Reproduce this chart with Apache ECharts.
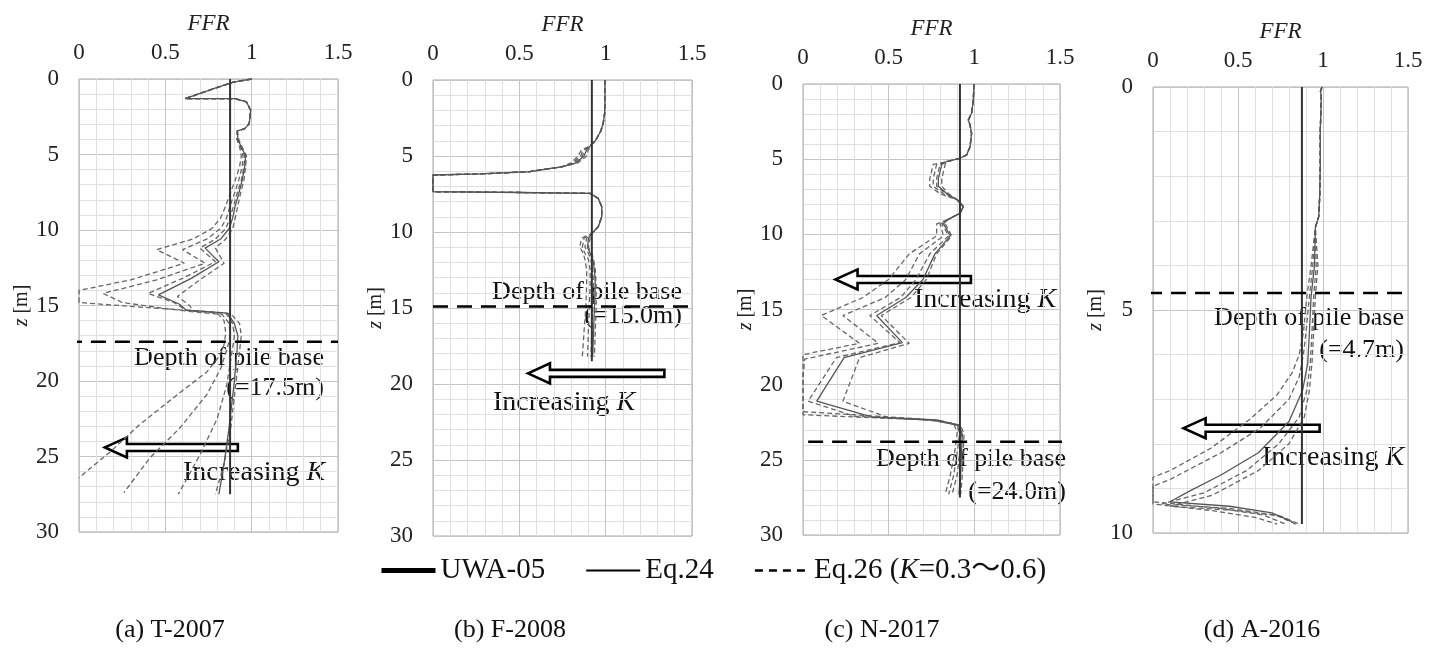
<!DOCTYPE html>
<html>
<head>
<meta charset="utf-8">
<script src="https://cdn.jsdelivr.net/npm/echarts@6/dist/echarts.min.js"></script>
<style>
  html, body { margin: 0; padding: 0; background: #fff; }
  #chart { width: 1441px; height: 657px; }
</style>
</head>
<body>
<div id="chart"></div>
<script>
// values are [FFR, z] pairs
const panelNames = ['(a) T-2007', '(b) F-2008', '(c) N-2017', '(d) A-2016'];
const depthMax = [30, 30, 30, 10];
const pileBase = ['17.5', '15.0', '24.0', '4.7'];
const ffrTicks = [0, 0.5, 1, 1.5];

// (a) T-2007
const aTop = [[1.0, 0], [0.894, 0.2], [0.78, 0.64], [0.643, 1.19], [0.614, 1.3], [0.903, 1.3], [0.97, 1.52],
  [0.994, 2.07], [0.986, 2.96], [0.96, 3.29], [0.917, 3.44]];
const aK06 = [[0.915, 4.0], [0.93, 4.5], [0.94, 5.1], [0.93, 5.8], [0.905, 6.7], [0.875, 7.6], [0.85, 8.4],
  [0.82, 9.2], [0.77, 9.9], [0.66, 10.6], [0.45, 11.3], [0.61, 12.2], [0.3, 13.3], [0.0, 14.0], [0.0, 14.8],
  [0.35, 15.1], [0.6, 15.3], [0.8, 15.5], [0.84, 16.0], [0.85, 16.8], [0.84, 17.6], [0.81, 18.4], [0.74, 19.4],
  [0.57, 20.9], [0.35, 22.9], [0.18, 24.7], [0.0, 26.4]];
const aK05 = [[0.915, 4.0], [0.935, 4.5], [0.95, 5.1], [0.945, 5.8], [0.925, 6.7], [0.9, 7.6], [0.875, 8.4],
  [0.855, 9.2], [0.82, 9.9], [0.74, 10.6], [0.6, 11.3], [0.73, 12.2], [0.45, 13.3], [0.14, 14.2], [0.25, 14.8],
  [0.5, 15.2], [0.65, 15.4], [0.83, 15.6], [0.87, 16.2], [0.875, 17.0], [0.86, 17.8], [0.82, 19.2], [0.74, 20.9],
  [0.585, 23.1], [0.41, 25.1], [0.26, 27.4]];
const aK04 = [[0.92, 4.0], [0.94, 4.5], [0.96, 5.1], [0.955, 5.8], [0.94, 6.7], [0.915, 7.6], [0.895, 8.4],
  [0.875, 9.2], [0.85, 9.9], [0.79, 10.6], [0.7, 11.2], [0.79, 12.1], [0.6, 13.2], [0.4, 14.2], [0.55, 14.8],
  [0.62, 15.3], [0.85, 15.5], [0.89, 16.2], [0.9, 17.0], [0.89, 17.8], [0.855, 20.3], [0.8, 22.5], [0.7, 24.9],
  [0.575, 27.5]];
const aEq24 = [[0.92, 4.0], [0.94, 4.5], [0.965, 5.1], [0.96, 5.8], [0.945, 6.7], [0.925, 7.6], [0.905, 8.4],
  [0.89, 9.2], [0.87, 9.9], [0.82, 10.6], [0.73, 11.2], [0.81, 12.1], [0.65, 13.2], [0.46, 14.3], [0.58, 14.9],
  [0.62, 15.3], [0.86, 15.5], [0.9, 16.2], [0.92, 17.0], [0.915, 18.0], [0.9, 20.0], [0.87, 23.0], [0.84, 25.5],
  [0.81, 27.5]];
const aK03 = [[0.925, 4.0], [0.945, 4.5], [0.97, 5.1], [0.965, 5.8], [0.955, 6.7], [0.935, 7.6], [0.92, 8.4],
  [0.905, 9.2], [0.89, 9.9], [0.85, 10.6], [0.79, 11.2], [0.84, 12.2], [0.7, 13.3], [0.57, 14.4], [0.64, 15.0],
  [0.66, 15.35], [0.88, 15.55], [0.93, 16.2], [0.94, 17.0], [0.93, 18.0], [0.91, 20.0], [0.88, 23.0],
  [0.84, 25.5], [0.79, 27.5]];
const aUwa = [[0.875, 0], [0.875, 27.5]];

// (b) F-2008
const bTop = [[0.996, 0], [0.996, 1.0], [0.994, 2.2], [0.985, 2.9], [0.97, 3.4], [0.94, 4.0], [0.91, 4.35]];
const bMid = [[0.75, 5.7], [0.56, 6.03], [0.27, 6.18], [0.0, 6.25], [0.0, 7.35], [0.5, 7.4], [0.909, 7.46],
  [0.957, 7.79], [0.977, 8.33], [0.977, 9.0], [0.957, 9.65], [0.92, 10.1]];
const bK06 = [[[0.86, 4.6], [0.84, 5.0], [0.8, 5.45]], [[0.86, 10.4], [0.85, 11.0], [0.87, 11.4], [0.88, 11.8],
  [0.89, 12.5], [0.89, 13.5], [0.885, 15.0], [0.875, 16.5], [0.865, 18.2]]];
const bK05 = [[[0.87, 4.6], [0.855, 5.0], [0.81, 5.45]], [[0.875, 10.4], [0.865, 11.0], [0.88, 11.4], [0.9, 11.8],
  [0.91, 12.5], [0.91, 13.5], [0.905, 15.0], [0.9, 16.5], [0.895, 18.2]]];
const bK04 = [[[0.88, 4.6], [0.865, 5.0], [0.82, 5.45]], [[0.89, 10.4], [0.88, 11.0], [0.9, 11.4], [0.915, 11.8],
  [0.925, 12.5], [0.93, 13.5], [0.925, 15.0], [0.92, 16.5], [0.915, 18.2]]];
const bEq24 = [[[0.89, 4.6], [0.875, 5.0], [0.83, 5.45]], [[0.9, 10.4], [0.895, 11.0], [0.91, 11.4], [0.925, 11.8],
  [0.935, 12.5], [0.94, 13.5], [0.935, 15.0], [0.93, 16.5], [0.925, 18.2]]];
const bK03 = [[[0.9, 4.6], [0.89, 5.0], [0.84, 5.45]], [[0.91, 10.4], [0.9, 11.0], [0.92, 11.4], [0.93, 11.8],
  [0.94, 12.5], [0.945, 13.5], [0.945, 15.0], [0.94, 16.5], [0.935, 18.2]]];
const bUwa = [[0.92, 0], [0.92, 18.5]];

// (c) N-2017
const cTop = [[0.998, 0], [0.994, 1.06], [0.984, 1.95], [0.965, 2.4], [0.975, 2.73], [0.984, 3.28],
  [0.975, 4.17], [0.955, 4.72], [0.916, 4.94], [0.838, 5.17]];
const cMid = [[0.9, 7.7], [0.936, 8.16], [0.916, 8.6], [0.84, 9.05]];
const cK06 = [[[0.76, 5.35], [0.74, 6.3], [0.74, 6.8], [0.8, 7.3]], [[0.78, 9.3], [0.78, 10.1], [0.62, 11.3],
  [0.5, 13.0], [0.35, 14.2], [0.107, 15.4], [0.33, 17.25], [0.0, 18.0], [0.0, 21.8], [0.3, 22.0], [0.7, 22.3],
  [0.88, 22.6], [0.9, 23.2], [0.885, 24.5], [0.86, 26.0], [0.83, 27.3]]];
const cK05 = [[[0.78, 5.35], [0.76, 6.3], [0.76, 6.8], [0.82, 7.3]], [[0.8, 9.3], [0.82, 10.1], [0.68, 11.3],
  [0.6, 13.0], [0.48, 14.2], [0.233, 15.4], [0.44, 17.25], [0.01, 18.3], [0.0, 19.5], [0.0, 22.0], [0.3, 22.15],
  [0.75, 22.35], [0.89, 22.65], [0.915, 23.2], [0.9, 24.5], [0.88, 26.0], [0.85, 27.3]]];
const cK04 = [[[0.8, 5.35], [0.78, 6.3], [0.78, 6.8], [0.835, 7.3]], [[0.81, 9.3], [0.85, 10.1], [0.74, 11.3],
  [0.66, 13.0], [0.57, 14.2], [0.39, 15.4], [0.565, 17.2], [0.195, 18.2], [0.03, 21.1], [0.3, 22.1],
  [0.76, 22.35], [0.9, 22.7], [0.925, 23.3], [0.915, 24.5], [0.9, 26.0], [0.87, 27.3]]];
const cEq24 = [[[0.81, 5.35], [0.79, 6.3], [0.79, 6.8], [0.84, 7.3]], [[0.82, 9.3], [0.86, 10.1], [0.77, 11.3],
  [0.7, 13.0], [0.6, 14.2], [0.43, 15.4], [0.58, 17.2], [0.24, 18.2], [0.08, 21.1], [0.4, 22.15], [0.78, 22.35],
  [0.91, 22.7], [0.93, 23.3], [0.925, 24.5], [0.92, 26.0], [0.91, 27.3]]];
const cK03 = [[[0.83, 5.35], [0.81, 6.3], [0.81, 6.8], [0.85, 7.3]], [[0.83, 9.3], [0.868, 10.1], [0.78, 11.3],
  [0.72, 13.0], [0.63, 14.2], [0.457, 15.4], [0.62, 17.25], [0.33, 18.2], [0.233, 21.1], [0.5, 22.2], [0.8, 22.4],
  [0.92, 22.7], [0.94, 23.3], [0.935, 24.5], [0.93, 26.0], [0.92, 27.3]]];
const cUwa = [[0.916, 0], [0.916, 27.5]];

// (d) A-2016
const dTop = [[0.994, 0], [0.985, 0.1], [0.99, 0.2], [0.984, 1.0], [0.984, 1.8], [0.98, 2.5], [0.975, 2.9],
  [0.955, 3.15]];
const dK06 = [[0.93, 4.0], [0.905, 4.7], [0.885, 5.5], [0.86, 6.0], [0.82, 6.4], [0.73, 6.9], [0.57, 7.45],
  [0.34, 8.1], [0.1, 8.6], [0.0, 8.75], [0.0, 9.35], [0.35, 9.5], [0.6, 9.65], [0.73, 9.8]];
const dK05 = [[0.94, 4.0], [0.92, 4.7], [0.9, 5.5], [0.885, 6.0], [0.86, 6.5], [0.8, 7.0], [0.63, 7.65],
  [0.4, 8.2], [0.1, 8.8], [0.0, 8.95], [0.0, 9.3], [0.4, 9.45], [0.65, 9.6], [0.78, 9.8]];
const dEq24 = [[0.95, 4.0], [0.93, 4.7], [0.92, 5.5], [0.91, 6.2], [0.88, 6.8], [0.8, 7.5], [0.62, 8.2],
  [0.4, 8.7], [0.22, 9.05], [0.1, 9.3], [0.45, 9.4], [0.7, 9.55], [0.82, 9.75]];
const dK04 = [[0.96, 4.0], [0.945, 4.7], [0.935, 5.5], [0.925, 6.2], [0.905, 6.8], [0.86, 7.4], [0.74, 8.0],
  [0.55, 8.6], [0.3, 9.1], [0.05, 9.35], [0.45, 9.45], [0.72, 9.6], [0.84, 9.8]];
const dK03 = [[0.97, 4.0], [0.955, 4.7], [0.945, 5.5], [0.935, 6.2], [0.92, 6.8], [0.89, 7.4], [0.8, 8.0],
  [0.62, 8.6], [0.35, 9.15], [0.1, 9.4], [0.5, 9.5], [0.75, 9.62], [0.86, 9.8]];
const dUwa = [[0.876, 0], [0.876, 9.8]];

// pile base line: [x from, x to, z]
const baseLines = [[-0.07, 1.5, 17.4], [0, 1.558, 14.9], [0.03, 1.617, 23.8], [-0.035, 1.553, 4.62]];
// arrow: [tail x, tip x, z]
const arrows = [[0.92, 0.15, 24.4], [1.34, 0.55, 19.3], [0.98, 0.19, 13.0], [0.98, 0.18, 7.65]];

const eq26Name = 'Eq.26 (K=0.3～0.6)';
const serif = 'Liberation Serif, "Noto Sans CJK JP", serif';

const grids = [
  { left: 79, top: 79, width: 259, height: 453 },
  { left: 433, top: 80, width: 259, height: 456 },
  { left: 803, top: 84, width: 257, height: 451 },
  { left: 1153, top: 87, width: 255, height: 446 }
];

const curves = [
  { k: [aK06, aK05, aK04, aK03].map(c => aTop.concat(c)), eq: aTop.concat(aEq24), uwa: aUwa },
  {
    k: [bK06, bK05, bK04, bK03].map(c => bTop.concat(c[0], bMid, c[1])),
    eq: bTop.concat(bEq24[0], bMid, bEq24[1]),
    uwa: bUwa
  },
  {
    k: [cK06, cK05, cK04, cK03].map(c => cTop.concat(c[0], cMid, c[1])),
    eq: cTop.concat(cEq24[0], cMid, cEq24[1]),
    uwa: cUwa
  },
  { k: [dK06, dK05, dK04, dK03].map(c => dTop.concat(c)), eq: dTop.concat(dEq24), uwa: dUwa }
];

const xAxes = grids.map((g, i) => ({
  gridIndex: i,
  type: 'value',
  position: 'top',
  min: 0,
  max: 1.5,
  interval: 0.5,
  name: 'FFR',
  nameLocation: 'middle',
  nameGap: 44,
  nameTextStyle: { fontFamily: serif, fontStyle: 'italic', fontSize: 23, color: '#222' },
  axisLine: { show: false },
  axisTick: { show: false },
  axisLabel: {
    margin: 15,
    fontFamily: serif,
    fontSize: 23,
    color: '#222',
    formatter: v => (ffrTicks.indexOf(v) > -1 ? String(v) : '')
  },
  splitLine: { lineStyle: { color: '#c4c4c4', width: 1 } },
  minorTick: { show: false, splitNumber: 5 },
  minorSplitLine: { show: true, lineStyle: { color: '#e0e0e0', width: 1 } }
}));

const yAxes = grids.map((g, i) => ({
  gridIndex: i,
  type: 'value',
  inverse: true,
  min: 0,
  max: depthMax[i],
  interval: 5,
  name: '{i|z} [m]',
  nameLocation: 'middle',
  nameGap: 46,
  nameTextStyle: {
    fontFamily: serif,
    fontSize: 20,
    color: '#222',
    rich: { i: { fontFamily: serif, fontSize: 20, fontStyle: 'italic', color: '#222' } }
  },
  axisLine: { show: false },
  axisTick: { show: false },
  axisLabel: { margin: 20, fontFamily: serif, fontSize: 23, color: '#222' },
  splitLine: { lineStyle: { color: '#c4c4c4', width: 1 } },
  minorTick: { show: false, splitNumber: 5 },
  minorSplitLine: { show: true, lineStyle: { color: '#e0e0e0', width: 1 } }
}));

const series = [];
curves.forEach((p, i) => {
  p.k.forEach((data) => {
    series.push({
      name: eq26Name,
      type: 'line',
      xAxisIndex: i,
      yAxisIndex: i,
      data,
      symbol: 'none',
      silent: true,
      itemStyle: { color: '#000' },
      lineStyle: { color: '#666', width: 1.3, type: [5, 3] }
    });
  });
  series.push({
    name: 'Eq.24',
    type: 'line',
    xAxisIndex: i,
    yAxisIndex: i,
    data: p.eq,
    symbol: 'none',
    silent: true,
    itemStyle: { color: '#000' },
    lineStyle: { color: '#555', width: 1.3 }
  });
  series.push({
    name: 'UWA-05',
    type: 'line',
    xAxisIndex: i,
    yAxisIndex: i,
    data: p.uwa,
    symbol: 'none',
    silent: true,
    itemStyle: { color: '#000' },
    lineStyle: { color: '#333', width: 2 }
  });
  const b = baseLines[i];
  series.push({
    type: 'line',
    xAxisIndex: i,
    yAxisIndex: i,
    data: [[b[0], b[2]], [b[1], b[2]]],
    symbol: 'none',
    silent: true,
    clip: false,
    lineStyle: { color: '#000', width: 2.6, type: [15, 9] }
  });
  series.push({
    type: 'custom',
    xAxisIndex: i,
    yAxisIndex: i,
    data: [arrows[i]],
    silent: true,
    clip: false,
    renderItem: (params, api) => {
      const tail = api.coord([api.value(0), api.value(2)]);
      const tip = api.coord([api.value(1), api.value(2)]);
      const y = tip[1];
      const sh = 3.5;
      const hh = 10;
      const hl = 22;
      return {
        type: 'polygon',
        shape: {
          points: [
            [tip[0], y], [tip[0] + hl, y - hh], [tip[0] + hl, y - sh], [tail[0], y - sh],
            [tail[0], y + sh], [tip[0] + hl, y + sh], [tip[0] + hl, y + hh]
          ]
        },
        style: { fill: '#fff', stroke: '#000', lineWidth: 2.6 }
      };
    }
  });
});

const textStyle = (size, extra) => Object.assign({
  font: `${size}px ${serif}`,
  fill: '#111',
  verticalAlign: 'middle'
}, extra);

// annotation positions, pixels
const notes = [
  { depth: [324, 358], value: [324, 388], inc: [183, 473] },
  { depth: [682, 292], value: [682, 316], inc: [493, 403] },
  { depth: [1066, 459], value: [1066, 492], inc: [914, 300] },
  { depth: [1404, 318], value: [1404, 350], inc: [1262, 458] }
];
const captionX = [170, 510, 882, 1262];

const graphics = [];
notes.forEach((n, i) => {
  graphics.push({
    type: 'text', x: n.depth[0], y: n.depth[1], silent: true,
    style: textStyle(26, { text: 'Depth of pile base', align: 'right' })
  });
  graphics.push({
    type: 'text', x: n.value[0], y: n.value[1], silent: true,
    style: textStyle(26, { text: `(=${pileBase[i]}m)`, align: 'right' })
  });
  graphics.push({
    type: 'text', x: n.inc[0], y: n.inc[1], silent: true,
    style: textStyle(28, {
      text: 'Increasing {i|K}',
      align: 'left',
      rich: { i: { font: `italic 28px ${serif}`, fill: '#111' } }
    })
  });
  graphics.push({
    type: 'text', x: captionX[i], y: 630, silent: true,
    style: textStyle(26, { text: panelNames[i], align: 'center' })
  });
});

const chart = echarts.init(document.getElementById('chart'));
chart.setOption({
  animation: false,
  backgroundColor: '#fff',
  grid: grids.map(g => Object.assign({ show: true, borderColor: '#a8a8a8', borderWidth: 1 }, g)),
  xAxis: xAxes,
  yAxis: yAxes,
  legend: {
    left: 374,
    top: 551,
    itemWidth: 54,
    itemHeight: 14,
    itemGap: 40,
    selectedMode: false,
    itemStyle: { opacity: 0 },
    textStyle: {
      fontFamily: serif,
      fontSize: 29,
      color: '#111',
      rich: { i: { fontFamily: serif, fontSize: 29, fontStyle: 'italic', color: '#111' } }
    },
    formatter: name => (name === eq26Name ? 'Eq.26 ({i|K}=0.3～0.6)' : name),
    data: [
      { name: 'UWA-05', itemStyle: { opacity: 0 }, lineStyle: { color: '#000', width: 5, type: 'solid' } },
      { name: 'Eq.24', itemStyle: { opacity: 0 }, lineStyle: { color: '#000', width: 2, type: 'solid' } },
      { name: eq26Name, itemStyle: { opacity: 0 }, lineStyle: { color: '#000', width: 2.5, type: [8, 6] } }
    ]
  },
  series,
  graphic: graphics
});
</script>
</body>
</html>
